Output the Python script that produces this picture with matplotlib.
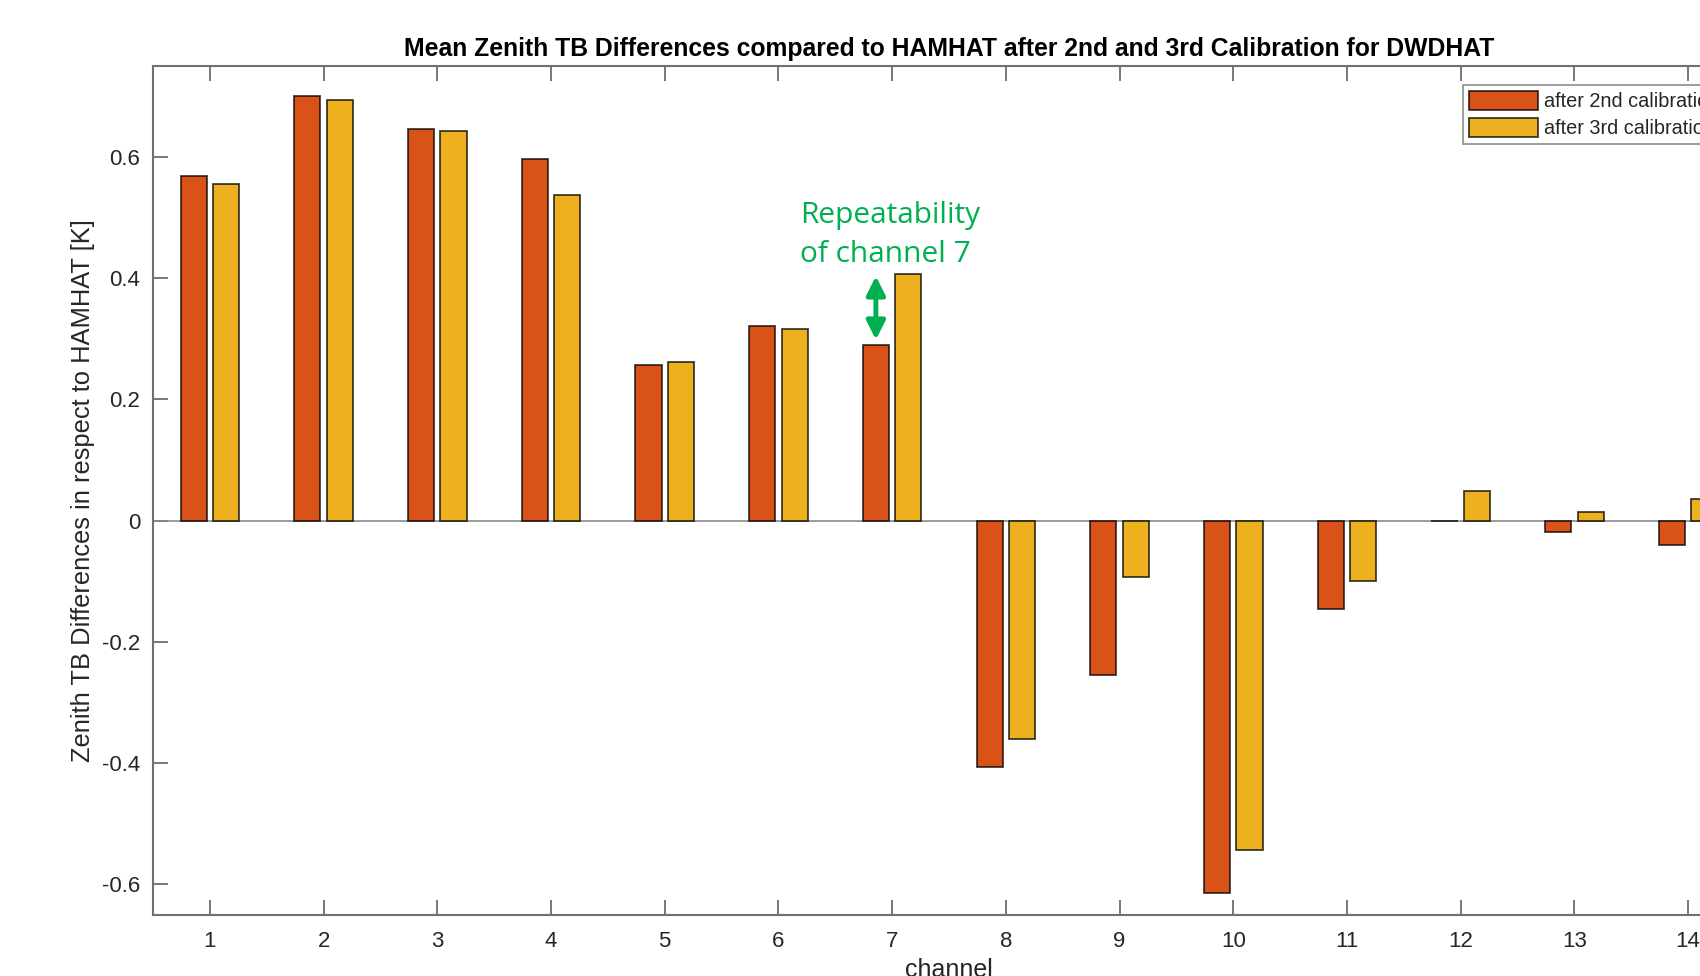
import numpy as np
import matplotlib
matplotlib.use("Agg")
import matplotlib.pyplot as plt

channels = np.arange(1, 15)
after_2nd = [0.568, 0.700, 0.646, 0.596, 0.257, 0.321, 0.289,
             -0.407, -0.254, -0.615, -0.146, -0.001, -0.019, -0.041]
after_3rd = [0.555, 0.693, 0.643, 0.536, 0.261, 0.316, 0.407,
             -0.361, -0.093, -0.543, -0.100, 0.048, 0.014, 0.036]
yticks = [-0.6, -0.4, -0.2, 0, 0.2, 0.4, 0.6]
ytick_labels = ["-0.6", "-0.4", "-0.2", "0", "0.2", "0.4", "0.6"]
series_names = ["after 2nd calibration", "after 3rd calibration"]

plt.rcParams['font.family'] = ['Liberation Sans', 'DejaVu Sans']

fig = plt.figure(figsize=(17, 9.76), dpi=100)
# axes run past the right edge of the figure, as in the reference
ax = fig.add_axes([153 / 1700, 1 - 914.7 / 976, 1592 / 1700, 849 / 976])

w = 0.23
off = 0.143
edge = (0, 0, 0, 0.75)
ax.bar(channels - off, after_2nd, w, color='#D95319', edgecolor=edge, lw=1.3,
       label=series_names[0], zorder=3)
ax.bar(channels + off, after_3rd, w, color='#EDB120', edgecolor=edge, lw=1.3,
       label=series_names[1], zorder=3)
ax.axhline(0, color='#8a8a8a', lw=1.2, zorder=2)

ax.set_xlim(0.5, 14.5)
ax.set_ylim(-0.65, 0.75)
ax.set_xticks(channels)
ax.set_yticks(yticks)
ax.set_yticklabels(ytick_labels)
ax.tick_params(direction='in', length=11, width=1.2, colors='#606060',
               labelcolor='#262626', labelsize=16, top=True, right=True)
ax.tick_params(axis='x', pad=12)
ax.tick_params(axis='y', pad=9)
for s in ax.spines.values():
    s.set_color('#707070')
    s.set_linewidth(1.5)

ax.set_title("Mean Zenith TB Differences compared to HAMHAT after 2nd and 3rd Calibration for DWDHAT",
             fontsize=17.8, fontweight='bold', color='black', pad=7)
ax.set_ylabel("Zenith TB Differences in respect to HAMHAT [K]", fontsize=18.4,
              color='#262626', labelpad=5)
ax.set_xlabel("channel", fontsize=18, color='#262626', labelpad=4)

ax.annotate("", xy=(7 - off, after_3rd[6] - 0.004), xytext=(7 - off, after_2nd[6] + 0.009),
            arrowprops=dict(arrowstyle='<|-|>', color='#00B050', lw=3.5,
                            mutation_scale=28, shrinkA=0, shrinkB=0), zorder=4)
green_font = dict(fontsize=21.5, family=['Open Sans', 'DejaVu Sans'], color='#00B050',
                  ha='left', va='baseline')
ax.text(7 - 0.81, 0.490, "Repeatability", **green_font)
ax.text(7 - 0.81, 0.427, "of channel 7", **green_font)

leg = ax.legend(loc='upper left', bbox_to_anchor=(1463 / 1700, 1 - 85 / 976),
                bbox_transform=fig.transFigure, fontsize=14.3, frameon=True,
                fancybox=False, handlelength=3.5, handleheight=1.1,
                labelspacing=0.35, borderpad=0.3, handletextpad=0.3,
                borderaxespad=0)
leg.get_frame().set_edgecolor('#707070')
leg.get_frame().set_linewidth(1.2)
for t in leg.get_texts():
    t.set_color('#262626')

fig.savefig("out.png", dpi=100)
